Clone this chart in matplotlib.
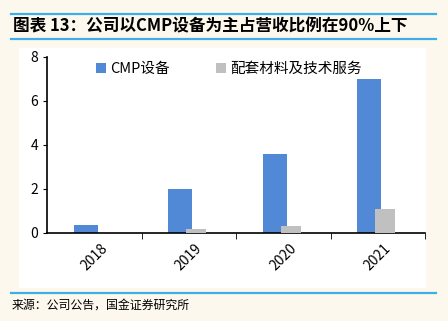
import matplotlib.pyplot as plt
from matplotlib.patches import Rectangle
from matplotlib.lines import Line2D
import numpy as np

plt.rcParams['font.family'] = ['Noto Sans CJK SC', 'DejaVu Sans']

years = ['2018', '2019', '2020', '2021']
cmp_equip = [0.38, 2.02, 3.58, 6.98]
service = [0.02, 0.17, 0.33, 1.10]

W, H = 448, 321
fig = plt.figure(figsize=(W / 100, H / 100), dpi=100)
fig.patch.set_facecolor('#fdf8ee')

# white panel behind chart
fig.add_artist(Rectangle((19 / W, 1 - 288 / H), (426 - 19) / W, (288 - 48) / H,
                         transform=fig.transFigure, facecolor='white', edgecolor='none', zorder=0))
for yy in (14, 39, 293):
    fig.add_artist(Line2D([11 / W, 436 / W], [1 - yy / H, 1 - yy / H],
                          transform=fig.transFigure, color='#3cb0e6', lw=1.6))

fig.text(13 / W, 1 - 26 / H, '图表 13：公司以CMP设备为主占营收比例在90%上下',
         fontsize=12, fontweight='bold', style='italic', va='center', ha='left')
fig.text(12 / W, 1 - 305 / H, '来源：公司公告，国金证券研究所',
         fontsize=8.6, va='center', ha='left')

ax = fig.add_axes([47 / W, 1 - 233 / H, (425 - 47) / W, (233 - 57) / H])
ax.set_facecolor('none')
x = np.arange(len(years))
ax.bar(x - 0.09, cmp_equip, width=0.25, color='#5189d6', label='CMP设备', zorder=2)
ax.bar(x + 0.08, service, width=0.21, color='#c0c0c0', label='配套材料及技术服务', zorder=3)

ax.set_xlim(-0.5, 3.5)
ax.set_ylim(0, 8)
ax.set_yticks([0, 2, 4, 6, 8])
ax.set_xticks(x)
ax.set_xticklabels(years, rotation=45, fontsize=10)
ax.set_xticks(x + 0.5, minor=True)
ax.tick_params(axis='x', which='major', length=0, pad=6)
ax.tick_params(axis='x', which='minor', length=4, direction='out')
ax.tick_params(axis='y', labelsize=10, length=3, direction='out')
for s in ('top', 'right'):
    ax.spines[s].set_visible(False)
for s in ('left', 'bottom'):
    ax.spines[s].set_linewidth(1.2)

ax.legend(loc='upper left', bbox_to_anchor=(0.095, 1.045), ncol=2, frameon=False,
          fontsize=10.5, handlelength=0.65, handleheight=0.65, handletextpad=0.3,
          columnspacing=3.2)

fig.savefig('out.png', dpi=100, facecolor=fig.get_facecolor())
